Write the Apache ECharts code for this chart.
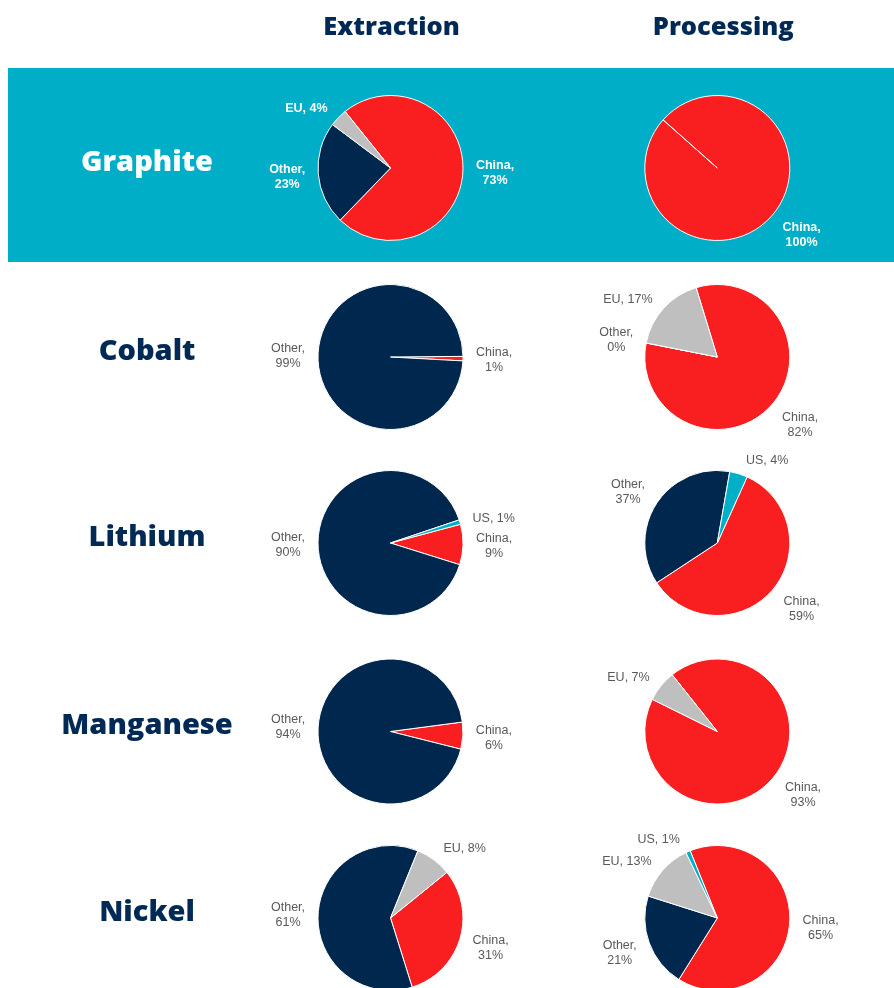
<!DOCTYPE html>
<html><head><meta charset="utf-8">
<script src="https://cdn.jsdelivr.net/npm/echarts@6/dist/echarts.min.js"></script>
<style>html,body{margin:0;padding:0;background:#fff}#c{width:894px;height:988px}</style>
</head><body><div id="c"></div>
<script>
// ---- data ----
const minerals = ['Graphite', 'Cobalt', 'Lithium', 'Manganese', 'Nickel'];
const stages = ['Extraction', 'Processing'];
const regions = ['China', 'Other', 'EU', 'US'];
// values per region in order [China, Other, EU, US]; null = not shown
const graphiteExtraction = [73, 23, 4, null];
const graphiteProcessing = [100, 0, null, null];
const cobaltExtraction = [1, 99, null, null];
const cobaltProcessing = [82, 0, 17, null];
const lithiumExtraction = [9, 90, null, 1];
const lithiumProcessing = [59, 37, null, 4];
const manganeseExtraction = [6, 94, null, null];
const manganeseProcessing = [93, null, 7, null];
const nickelExtraction = [31, 61, 8, null];
const nickelProcessing = [65, 21, 13, 1];

const extractionValues = [graphiteExtraction, cobaltExtraction, lithiumExtraction, manganeseExtraction, nickelExtraction];
const processingValues = [graphiteProcessing, cobaltProcessing, lithiumProcessing, manganeseProcessing, nickelProcessing];
// labels not shown in the reference
const hiddenLabels = ['Graphite|Processing|Other'];

// ---- layout / style ----
const colors = { China: '#f91f20', Other: '#00284f', EU: '#bfbfbf', US: '#00b0c9' };
const rowY = [168, 357, 543, 731.5, 918];
const colX = [390.5, 717.3];
const pieR = 72.5;
const extractionStart = [128.8, 0.5, 15, 7.5, 39];
const processingStart = [138.4, 107, 65.7, 128.5, 112];
const navy = '#002a55';
const band = '#00aec7';

const series = [];
const meta = [];
minerals.forEach((m, i) => {
  [extractionValues[i], processingValues[i]].forEach((vals, s) => {
    const onBand = i === 0;
    const start = (s === 0 ? extractionStart : processingStart)[i];
    const data = [];
    vals.forEach((v, k) => {
      if (v === null) return;
      const key = m + '|' + stages[s] + '|' + regions[k];
      data.push({
        name: regions[k], value: v,
        itemStyle: { color: colors[regions[k]] },
        label: { show: hiddenLabels.indexOf(key) < 0 }
      });
    });
    // mid-angle of each slice (screen direction), used to nudge labels outward like Excel
    const sum = data.reduce((a, d) => a + d.value, 0);
    let cum = 0;
    const dirs = data.map(d => {
      const a = (start - (cum + d.value / 2) / sum * 360) * Math.PI / 180;
      cum += d.value;
      return [Math.cos(a), -Math.sin(a)];
    });
    meta.push(dirs);
    series.push({
      type: 'pie',
      center: [colX[s], rowY[i]],
      radius: pieR,
      startAngle: start,
      clockwise: true,
      avoidLabelOverlap: true,
      animation: false,
      silent: true,
      itemStyle: { borderColor: '#ffffff', borderWidth: 1 },
      label: {
        show: true, position: 'outside',
        formatter: p => (p.name === 'EU' || p.name === 'US') ? p.name + ', ' + p.value + '%' : p.name + ',\n' + p.value + '%',
        fontFamily: 'Liberation Sans, Arial, sans-serif',
        fontSize: 12.5, lineHeight: 15,
        fontWeight: onBand ? 'bold' : 'normal',
        color: onBand ? '#ffffff' : '#595959'
      },
      labelLine: { show: false, length: 8, length2: 0 },
      labelLayout: function (p) {
        const u = meta[p.seriesIndex][p.dataIndex];
        const f = u[1] < 0 ? 0.9 : 1.3;
        const k = Math.max(-1, Math.min(1, f * u[1]));
        return {
          x: p.labelRect.x + p.labelRect.width / 2,
          y: p.labelRect.y + p.labelRect.height / 2 + k * p.labelRect.height / 2 + 1,
          align: 'center', verticalAlign: 'middle'
        };
      },
      data: data
    });
  });
});

const titles = [];
stages.forEach((st, s) => {
  titles.push({
    text: st, left: colX[s] + (s === 0 ? -4 : 1), top: 10, textAlign: 'center',
    textStyle: { fontFamily: 'Open Sans', fontWeight: 800, fontSize: 25.5, color: navy }
  });
});
minerals.forEach((m, i) => {
  titles.push({
    text: m, left: 142, top: rowY[i] - 25, textAlign: 'center',
    textStyle: { fontFamily: 'Open Sans', fontWeight: 800, fontSize: 29, color: i === 0 ? '#ffffff' : navy }
  });
});

const chart = echarts.init(document.getElementById('c'), null, { renderer: 'canvas' });
chart.setOption({
  backgroundColor: '#ffffff',
  animation: false,
  graphic: [{ type: 'rect', shape: { x: 8, y: 68, width: 886, height: 194 }, style: { fill: band }, z: -10 }],
  title: titles,
  series: series
});
</script></body></html>
